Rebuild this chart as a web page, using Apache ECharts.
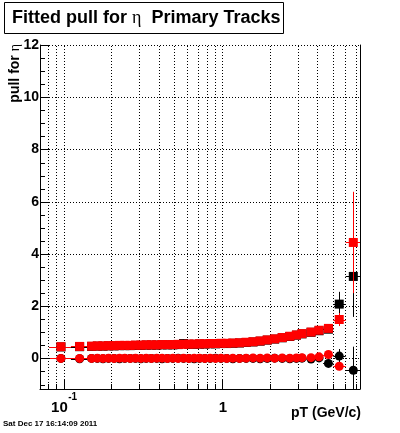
<!DOCTYPE html>
<html><head><meta charset="utf-8">
<script src="https://cdn.jsdelivr.net/npm/echarts@6/dist/echarts.min.js"></script>
<style>html,body{margin:0;padding:0;background:#fff}#c{width:400px;height:433px}</style>
</head><body><div id="c"></div>
<script>
// ---- data ----
const pT = [0.096,0.126,0.150,0.163,0.177,0.192,0.208,0.225,0.243,0.263,
            0.284,0.307,0.332,0.358,0.387,0.418,0.452,0.489,0.528,0.571,
            0.617,0.667,0.721,0.779,0.842,0.91,0.985,1.07,1.17,1.29,
            1.42,1.57,1.74,1.93,2.15,2.40,2.68,2.95,3.2,3.65,
            4.1,4.7,5.5,6.75];
const binEdges = [0.081,0.111,0.141,0.157,0.170,0.184,0.200,0.216,0.234,0.253,
                  0.273,0.295,0.319,0.345,0.372,0.402,0.435,0.470,0.508,0.549,
                  0.594,0.642,0.694,0.750,0.810,0.876,0.947,1.027,1.12,1.23,
                  1.355,1.495,1.655,1.835,2.04,2.275,2.54,2.815,3.075,3.42,
                  3.87,4.35,5.05,6.04,7.5];
const redSquares = [0.45,0.46,0.47,0.48,0.48,0.49,0.49,0.50,0.50,0.50,
                    0.51,0.51,0.52,0.52,0.52,0.53,0.53,0.53,0.54,0.54,
                    0.55,0.55,0.56,0.56,0.57,0.57,0.58,0.58,0.59,0.60,
                    0.62,0.64,0.67,0.71,0.75,0.80,0.85,0.90,0.95,1.01,
                    1.08,1.15,1.49,4.44];
const redSquareErr = [0.03,0.02,0.02,0.02,0.02,0.02,0.02,0.02,0.02,0.02,
                      0.02,0.02,0.02,0.02,0.02,0.02,0.02,0.02,0.02,0.02,
                      0.02,0.02,0.02,0.02,0.02,0.02,0.02,0.02,0.02,0.02,
                      0.02,0.02,0.02,0.02,0.02,0.02,0.02,0.02,0.03,0.03,
                      0.03,0.06,0.25,1.94];
const blackSquares = [0.44,0.45,0.46,0.47,0.47,0.48,0.48,0.49,0.49,0.49,
                      0.50,0.50,0.51,0.51,0.51,0.52,0.52,0.52,0.53,0.57,
                      0.54,0.54,0.55,0.55,0.56,0.56,0.57,0.57,0.58,0.59,
                      0.61,0.63,0.66,0.70,0.74,0.79,0.84,0.89,0.94,1.00,
                      1.06,1.12,2.08,3.14];
const blackSquareErr = [0.03,0.02,0.02,0.02,0.02,0.02,0.02,0.02,0.02,0.02,
                        0.02,0.02,0.02,0.02,0.02,0.02,0.02,0.02,0.02,0.02,
                        0.02,0.02,0.02,0.02,0.02,0.02,0.02,0.02,0.02,0.02,
                        0.02,0.02,0.02,0.02,0.02,0.02,0.02,0.02,0.03,0.03,
                        0.04,0.08,0.47,1.55];
const redCircles = [0.00,0.00,0.00,0.01,0.00,0.01,0.00,0.01,0.01,0.00,
                    0.01,0.00,0.01,0.00,0.01,0.01,0.00,0.01,0.00,0.01,
                    0.00,0.01,0.01,0.00,0.01,0.00,0.01,0.00,0.01,0.00,
                    0.01,0.02,0.01,0.02,0.01,0.02,0.01,0.02,0.03,0.03,
                    0.06,0.15,-0.30,null];
const redCircleErr = [0.02,0.02,0.02,0.02,0.02,0.02,0.02,0.02,0.02,0.02,
                      0.02,0.02,0.02,0.02,0.02,0.02,0.02,0.02,0.02,0.02,
                      0.02,0.02,0.02,0.02,0.02,0.02,0.02,0.02,0.02,0.02,
                      0.02,0.02,0.02,0.02,0.02,0.02,0.02,0.02,0.03,0.03,
                      0.04,0.08,0.15,0];
const blackCircles = [0.00,-0.01,0.00,0.00,-0.01,0.00,0.00,-0.01,0.00,0.00,
                      0.00,-0.01,0.00,0.00,0.00,-0.01,0.00,0.00,0.01,0.00,
                      0.00,-0.01,0.00,0.00,0.00,0.01,0.00,0.00,-0.01,0.00,
                      0.00,0.00,-0.01,0.00,0.01,0.00,-0.01,0.00,0.01,-0.02,
                      0.02,-0.19,0.09,-0.45];
const blackCircleErr = [0.02,0.02,0.02,0.02,0.02,0.02,0.02,0.02,0.02,0.02,
                        0.02,0.02,0.02,0.02,0.02,0.02,0.02,0.02,0.02,0.02,
                        0.02,0.02,0.02,0.02,0.02,0.02,0.02,0.02,0.02,0.02,
                        0.02,0.02,0.02,0.02,0.02,0.02,0.02,0.02,0.03,0.03,
                        0.04,0.08,0.27,0.9];

const xMajorTicks = [0.1, 1];
const xMinorTicks = [0.08,0.09,0.2,0.3,0.4,0.5,0.6,0.7,0.8,0.9,2,3,4,5,6,7];
const xTickLabelBase = ['10', '1'];
const xTickLabelExp = ['-1', ''];
const yMajorTicks = [0,2,4,6,8,10,12];
const yMinorTicks = [-1,-0.5,0.5,1,1.5,2.5,3,3.5,4.5,5,5.5,6.5,7,7.5,8.5,9,9.5,10.5,11,11.5];
const X_MIN = 0.0708, X_MAX = 7.44, Y_MIN = -1.17, Y_MAX = 12;

const titleText = 'Fitted pull for ';
const titleGreek = 'η';
const titleRest = '  Primary Tracks';
const yTitle = 'pull for ';
const xTitle = 'pT (GeV/c)';
const dateText = 'Sat Dec 17 16:14:09 2011';

// ---- chart ----
const FONT = 'Liberation Sans, Arial, Helvetica, sans-serif';
const chart = echarts.init(document.getElementById('c'), null, {renderer:'canvas', width:400, height:433});

function px(v){ return Math.round(v) + 0.5; }

function errSeries(ys, errs, color, z){
  const data = [];
  pT.forEach((x,i) => { if (ys[i] !== null) data.push([x, ys[i], binEdges[i], binEdges[i+1], errs[i]]); });
  return {
    type:'custom', silent:true, clip:true, z:z, animation:false,
    data:data, encode:{x:0, y:1},
    renderItem:function(params, api){
      const x = api.value(0), y = api.value(1), lo = api.value(2), hi = api.value(3), e = api.value(4);
      const a = api.coord([lo, y]), b = api.coord([hi, y]);
      const c = api.coord([x, y + e]), d = api.coord([x, y - e]);
      return {type:'group', children:[
        {type:'line', shape:{x1:a[0], y1:px(a[1]), x2:b[0], y2:px(b[1])}, style:{stroke:color, lineWidth:1}},
        {type:'line', shape:{x1:px(c[0]), y1:c[1], x2:px(d[0]), y2:d[1]}, style:{stroke:color, lineWidth:1}}
      ]};
    }
  };
}
function markerSeries(ys, color, symbol, z){
  const data = [];
  pT.forEach((x,i) => { if (ys[i] !== null) data.push([x, ys[i]]); });
  return {type:'scatter', silent:true, z:z, animation:false, symbol:symbol, symbolSize:9,
          itemStyle:{color:color, opacity:1}, data:data};
}

const gridData = xMajorTicks.concat(xMinorTicks).map(v => [v, Y_MIN, 0])
  .concat(yMajorTicks.map(v => [X_MIN, v, 1]));
const tickData = xMajorTicks.map(v => [v, Y_MIN, 0, 10])
  .concat(xMinorTicks.map(v => [v, Y_MIN, 0, 5]))
  .concat(yMajorTicks.map(v => [X_MIN, v, 1, 10]))
  .concat(yMinorTicks.map(v => [X_MIN, v, 1, 5]));
const xLabelData = xMajorTicks.map((v,i) => [v, Y_MIN, i]);

const option = {
  backgroundColor:'#fff',
  animation:false,
  grid:{left:40, top:45, width:320, height:344, containLabel:false},
  xAxis:{type:'log', logBase:10, min:X_MIN, max:X_MAX,
    axisLine:{show:true, onZero:false, lineStyle:{color:'#000', width:1}},
    axisTick:{show:false}, axisLabel:{show:false}, splitLine:{show:false}, minorTick:{show:false}},
  yAxis:[{type:'value', min:Y_MIN, max:Y_MAX, splitNumber:6,
    axisLine:{show:true, onZero:false, lineStyle:{color:'#000', width:1}},
    axisTick:{show:false}, splitLine:{show:false},
    axisLabel:{show:true, showMinLabel:false, margin:1, color:'#000', fontFamily:FONT, fontWeight:'bold', fontSize:14,
      formatter:function(v){ const r = Math.round(v); return (Math.abs(v - r) < 1e-6 && yMajorTicks.indexOf(r) >= 0) ? String(r) : ''; }}},
    {type:'value', position:'right', min:Y_MIN, max:Y_MAX,
    axisLine:{show:true, onZero:false, lineStyle:{color:'#000', width:1}},
    axisTick:{show:false}, axisLabel:{show:false}, splitLine:{show:false}}],
  series:[
    {type:'custom', silent:true, z:1, animation:false, data:gridData, encode:{x:0,y:1},
     renderItem:function(params, api){
       const v0 = api.value(0), v1 = api.value(1), kind = api.value(2);
       let p, q;
       if (kind === 0){ p = api.coord([v0, Y_MIN]); q = api.coord([v0, Y_MAX]);
         return {type:'line', shape:{x1:px(p[0]), y1:Math.round(p[1]), x2:px(q[0]), y2:Math.round(q[1])}, style:{stroke:'#000', lineWidth:1, lineDash:[1,2]}}; }
       p = api.coord([X_MIN, v1]); q = api.coord([X_MAX, v1]);
       return {type:'line', shape:{x1:Math.round(p[0]), y1:px(p[1]), x2:Math.round(q[0]), y2:px(q[1])}, style:{stroke:'#000', lineWidth:1, lineDash:[1,2]}};
     }},
    {type:'custom', silent:true, z:6, animation:false, data:tickData, encode:{x:0,y:1},
     renderItem:function(params, api){
       const kind = api.value(2), len = api.value(3);
       const p = api.coord([api.value(0), api.value(1)]);
       if (kind === 0) return {type:'line', shape:{x1:px(p[0]), y1:p[1], x2:px(p[0]), y2:p[1]-len}, style:{stroke:'#000', lineWidth:1}};
       return {type:'line', shape:{x1:p[0], y1:px(p[1]), x2:p[0]+len, y2:px(p[1])}, style:{stroke:'#000', lineWidth:1}};
     }},
    {type:'custom', silent:true, z:6, animation:false, clip:false, data:xLabelData, encode:{x:0,y:1},
     renderItem:function(params, api){
       const i = api.value(2);
       const p = api.coord([api.value(0), api.value(1)]);
       const base = xTickLabelBase[i], ex = xTickLabelExp[i];
       const children = [];
       if (ex){
         children.push({type:'text', x:p[0]+4, y:p[1]+19, style:{text:base, align:'right', verticalAlign:'middle', fill:'#000', font:'bold 15px ' + FONT}});
         children.push({type:'text', x:p[0]+4.5, y:p[1]+8, style:{text:ex, align:'left', verticalAlign:'middle', fill:'#000', font:'bold 10px ' + FONT}});
       } else {
         children.push({type:'text', x:p[0]+1, y:p[1]+19, style:{text:base, align:'center', verticalAlign:'middle', fill:'#000', font:'bold 15px ' + FONT}});
       }
       return {type:'group', children:children};
     }},
    errSeries(blackSquares, blackSquareErr, '#000', 2),
    markerSeries(blackSquares, '#000', 'rect', 3),
    errSeries(blackCircles, blackCircleErr, '#000', 2),
    markerSeries(blackCircles, '#000', 'circle', 3),
    errSeries(redSquares, redSquareErr, '#ff0000', 4),
    markerSeries(redSquares, '#ff0000', 'rect', 5),
    errSeries(redCircles, redCircleErr, '#ff0000', 4),
    markerSeries(redCircles, '#ff0000', 'circle', 5)
  ],
  graphic:[
    {type:'rect', z:10, shape:{x:4.5, y:2.5, width:279, height:31}, style:{fill:'#fff', stroke:'#000', lineWidth:1}},
    {type:'text', z:11, x:12, y:18.5, style:{text:'{b|' + titleText + '}{g|' + titleGreek + '}{b|' + titleRest + '}',
      verticalAlign:'middle', align:'left',
      rich:{b:{fontFamily:FONT, fontWeight:'bold', fontSize:18, fill:'#000'},
            g:{fontFamily:'Liberation Serif, DejaVu Serif, serif', fontSize:18, fill:'#000'}}}},
    {type:'text', z:11, x:15, y:44, rotation:Math.PI/2, style:{text:'{b|' + yTitle + '}{g|' + titleGreek + '}',
      align:'right', verticalAlign:'middle',
      rich:{b:{fontFamily:FONT, fontWeight:'bold', fontSize:14, fill:'#000'},
            g:{fontFamily:'Liberation Serif, DejaVu Serif, serif', fontSize:14, fill:'#000'}}}},
    {type:'text', z:11, x:361, y:413, style:{text:xTitle, align:'right', verticalAlign:'middle', fill:'#000', font:'bold 14px ' + FONT}},
    {type:'text', z:11, x:3, y:424, style:{text:dateText, align:'left', verticalAlign:'middle', fill:'#000', font:'bold 8px ' + FONT}}
  ]
};
chart.setOption(option);
</script>
</body></html>
